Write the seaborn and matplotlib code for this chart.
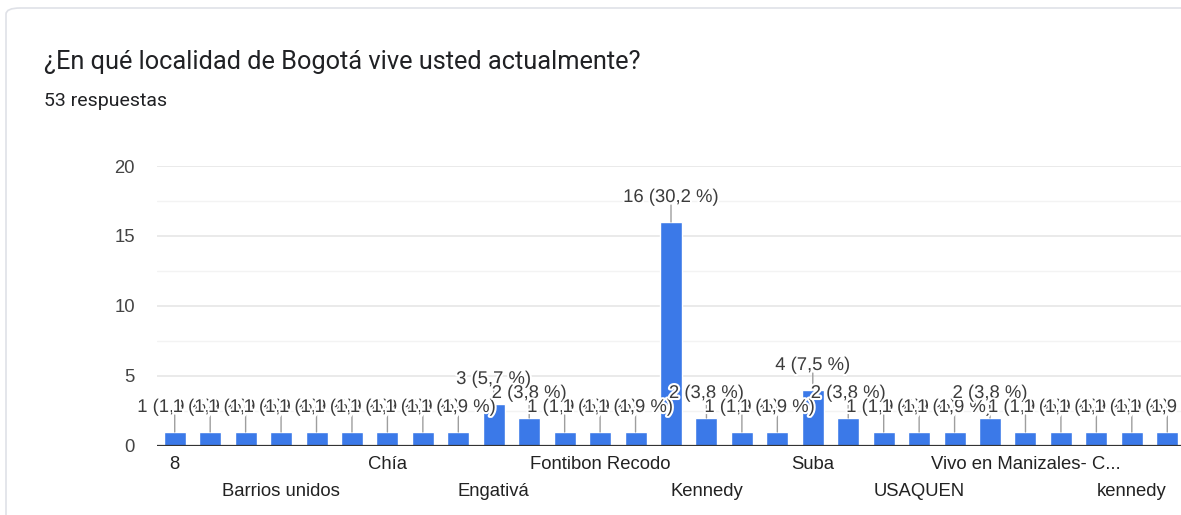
import matplotlib
matplotlib.use("Agg")
import matplotlib.pyplot as plt
import matplotlib.patheffects as pe
from matplotlib.patches import FancyBboxPatch
import seaborn as sns
import pandas as pd

# Responses per locality (sorted the way the form summary lists them)
localidades = [
    "8", "Antonio Nariño", "BOSA", "Barrios unidos", "Bosa", "Chapinero",
    "Chía", "Ciudad Bolívar", "Engativa", "Engativá", "Fontibon",
    "Fontibon Modelia", "Fontibon Recodo", "Fontibon Zona Franca",
    "Fontibón", "Kennedy", "Puente Aranda", "San Cristóbal", "Suba",
    "Teusaquillo", "Tunjuelito", "USAQUEN", "Usaquén", "Usme",
    "Vivo en Manizales- C...", "bosa", "engativa", "kennedy", "suba",
]
respuestas = [
    1, 1, 1, 1, 1, 1, 1, 1, 1, 3, 2, 1, 1, 1, 16, 2, 1, 1, 4, 2,
    1, 1, 1, 2, 1, 1, 1, 1, 1,
]
total_respuestas = 53
titulo = "¿En qué localidad de Bogotá vive usted actualmente?"
subtitulo = f"{total_respuestas} respuestas"
y_ticks = [0, 5, 10, 15, 20]

df = pd.DataFrame({"localidad": localidades, "n": respuestas})

sns.set_theme(style="white")
plt.rcParams["font.family"] = ["Liberation Sans", "DejaVu Sans"]
header_font = ["Roboto", "DejaVu Sans"]

W, H = 1181, 515
fig = plt.figure(figsize=(W / 100, H / 100), dpi=100)
fig.patch.set_facecolor("white")

# card outline, kept behind everything else
card = FancyBboxPatch((6 / W, -0.2), 1.2, (H - 8) / H + 0.2,
                      boxstyle="round,pad=0,rounding_size=0.012",
                      transform=fig.transFigure, facecolor="white",
                      edgecolor="#dfe1e7", linewidth=1.2, zorder=-10)
fig.patches.append(card)

fig.text(44 / W, 1 - 62 / H, titulo, fontsize=18.3, color="#202124",
         va="center", ha="left", family=header_font)
fig.text(44 / W, 1 - 101 / H, subtitulo, fontsize=14, color="#202124",
         va="center", ha="left", family=header_font)

ax = fig.add_axes([157 / W, 69 / H, 1028 / W, 280 / H])
ax.set_zorder(2)
ax.set_facecolor("none")

sns.barplot(data=df, x="localidad", y="n", order=localidades,
            color="#3b79e8", saturation=1, width=0.62, ax=ax, zorder=3)

ax.set_xlim(-0.5, len(localidades) - 0.5)
ax.set_ylim(0, 20)
ax.set_yticks(y_ticks)
ax.set_yticks([2.5, 7.5, 12.5, 17.5], minor=True)
ax.set_yticklabels([str(t) for t in y_ticks])
ax.grid(axis="y", which="major", color="#e6e6e6", linewidth=1.2, zorder=0)
ax.grid(axis="y", which="minor", color="#f3f3f3", linewidth=1.0, zorder=0)
ax.grid(axis="x", visible=False)
for s in ax.spines.values():
    s.set_visible(False)
ax.axhline(0, color="#333333", linewidth=1.6, zorder=5)

# x labels: every third locality, staggered in two rows
fila1 = list(range(0, len(localidades), 6))
fila2 = list(range(3, len(localidades), 6))
ax.set_xticks(fila1)
ax.set_xticklabels([localidades[i] for i in fila1])
ax.set_xticks(fila2, minor=True)
ax.set_xticklabels([localidades[i] for i in fila2], minor=True)
ax.tick_params(axis="x", which="major", length=0, pad=7.5, labelsize=13.3,
               labelcolor="#222222")
ax.tick_params(axis="x", which="minor", length=0, pad=27, labelsize=13.3,
               labelcolor="#222222")
ax.tick_params(axis="y", which="both", length=0, pad=15.8, labelsize=13.3,
               labelcolor="#444444")
ax.set_xlabel("")
ax.set_ylabel("")

# value labels with short leader stems
for i, v in enumerate(respuestas):
    ax.annotate("", xy=(i, v), xytext=(0, 17), textcoords="offset pixels",
                arrowprops=dict(arrowstyle="-", color="#9e9e9e", lw=1.0,
                                shrinkA=0, shrinkB=0), zorder=6)
for i, v in enumerate(respuestas):
    pct = f"{v / total_respuestas * 100:.1f}".replace(".", ",")
    ax.annotate(f"{v} ({pct} %)", xy=(i, v), xytext=(0, 20),
                textcoords="offset pixels", ha="center", va="baseline",
                fontsize=13.3, color="#3c3c3c", zorder=7 + i,
                path_effects=[pe.withStroke(linewidth=3, foreground="white")])

fig.savefig("out.png", dpi=100)
